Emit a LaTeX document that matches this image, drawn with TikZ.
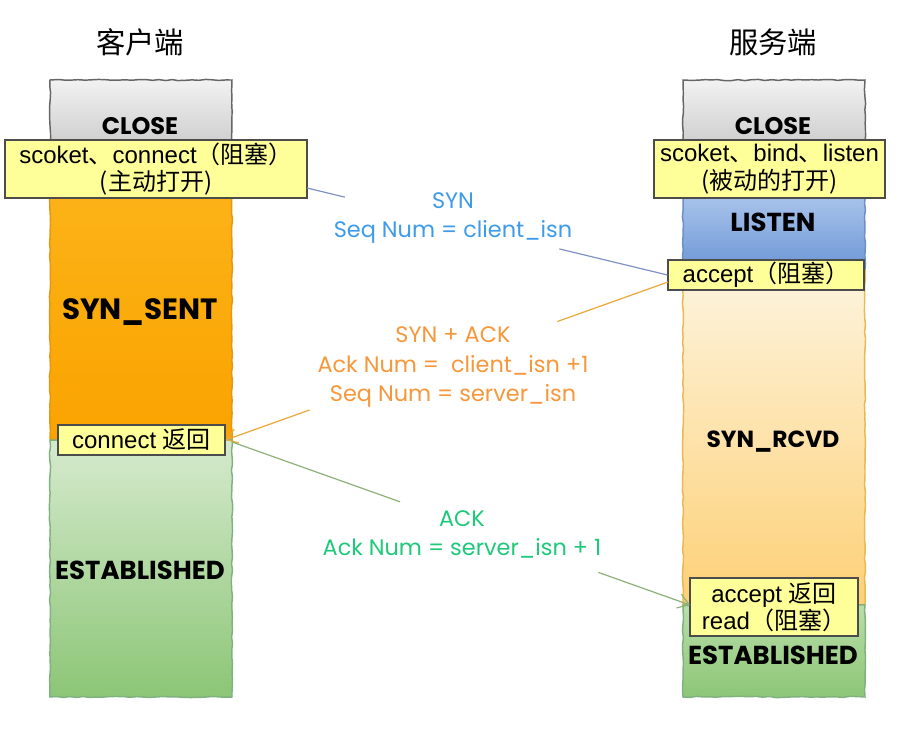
\documentclass[tikz,border=0pt]{standalone}
\usepackage{fontspec}
\setmainfont{Liberation Sans}
\newfontfamily\cjk{Noto Sans CJK SC}
\newfontfamily\comic{Poppins}
\usetikzlibrary{arrows.meta,decorations.pathmorphing,calc}
\newcommand{\zh}[1]{{\cjk #1}}
\definecolor{msgblue}{HTML}{3D9BE9}
\definecolor{msgorange}{HTML}{F5973A}
\definecolor{msggreen}{HTML}{1EC97A}
\definecolor{lnblue}{HTML}{7F92C4}
\definecolor{lnorange}{HTML}{E8A93A}
\definecolor{lngreen}{HTML}{8DB07A}
\definecolor{boxyellow}{HTML}{FFFF99}
\tikzset{
  wob/.style={decorate,decoration={random steps,segment length=5pt,amplitude=0.45pt},line width=1.1pt},
  ybox/.style={draw=black!70,fill=boxyellow,line width=0.8pt,inner sep=0pt,align=center,font=\fontsize{18}{20.5}\selectfont},
  state/.style={font=\comic\bfseries\fontsize{18}{20}\selectfont},
  msg/.style={font=\comic\fontsize{16.8}{21.8}\selectfont,align=center},
  title/.style={font=\cjk\fontsize{22}{26}\selectfont},
  conn/.style={line width=0.9pt},
  tip/.style={-{Straight Barb[length=8pt,width=11pt,line width=0.9pt]}}
}
\begin{document}
\begin{tikzpicture}[x=0.75pt,y=-0.75pt]
\useasboundingbox (0,0) rectangle (909,732);
% titles
\node[title] (tl) at (140,42) {客户端};
\node[title] (tr) at (773,42) {服务端};
% client column
\shade[wob,draw=black!60,top color=black!5,bottom color=black!25] (50,80) rectangle (232,170);
\shade[wob,draw={rgb,255:red,230;green,150;blue,20},top color={rgb,255:red,252;green,180;blue,25},bottom color={rgb,255:red,250;green,163;blue,0}] (50,170) rectangle (232,440);
\shade[wob,draw=green!40!black!50,top color={rgb,255:red,214;green,234;blue,206},bottom color={rgb,255:red,140;green,198;blue,118}] (50,440) rectangle (232,697);
% server column
\shade[wob,draw=black!60,top color=black!5,bottom color=black!25] (683,80) rectangle (865,170);
\shade[wob,draw={rgb,255:red,108;green,143;blue,196},top color={rgb,255:red,190;green,212;blue,242},bottom color={rgb,255:red,108;green,150;blue,214}] (683,170) rectangle (865,270);
\shade[wob,draw={rgb,255:red,232;green,185;blue,80},top color={rgb,255:red,253;green,244;blue,222},bottom color={rgb,255:red,253;green,208;blue,118}] (683,270) rectangle (865,605);
\shade[wob,draw=green!40!black!50,top color={rgb,255:red,186;green,222;blue,170},bottom color={rgb,255:red,140;green,198;blue,118}] (683,605) rectangle (865,697);
% state texts
\node[state] (cclose) at (140,126) {CLOSE};
\node[state] (sclose) at (773,126) {CLOSE};
\node[state,font=\comic\bfseries\fontsize{19.5}{22}\selectfont] (listen) at (773,222) {LISTEN};
\node[state,font=\comic\bfseries\fontsize{22}{24}\selectfont] (synsent) at (140,312) {SYN\_SENT};
\node[state,font=\comic\bfseries\fontsize{19.5}{22}\selectfont] (cest) at (140,570) {ESTABLISHED};
\node[state,font=\comic\bfseries\fontsize{17.5}{20}\selectfont] (synrcvd) at (773,442) {SYN\_RCVD};
\node[state,font=\comic\bfseries\fontsize{19.5}{22}\selectfont] (sest) at (773,655) {ESTABLISHED};
% yellow boxes
\node[ybox,minimum width=226.5pt,minimum height=43.5pt] (cbox) at (156,169) {scoket\zh{、}connect\zh{（阻塞）}\\\zh{(主动打开)}};
\node[ybox,minimum width=173.25pt,minimum height=43.5pt] (sbox) at (769.5,169) {scoket\zh{、}bind\zh{、}listen\\\zh{(被动的打开)}};
\node[ybox,minimum width=147pt,minimum height=22.5pt] (acc) at (766,275) {accept\zh{（阻塞）}};
\node[ybox,minimum width=125.25pt,minimum height=22.5pt] (cret) at (141.5,440) {connect \zh{返回}};
\node[ybox,minimum width=126pt,minimum height=43.5pt] (aret) at (774,607) {accept \zh{返回}\\read\zh{（阻塞）}};
% message labels
\node[msg,text=msgblue] (m1) at (453,218) {SYN\\Seq Num = client\_isn};
\node[msg,text=msgorange] (m2) at (453,367) {SYN + ACK\\Ack Num = \ client\_isn +1\\Seq Num = server\_isn};
\node[msg,text=msggreen] (m3) at (462,534) {ACK\\Ack Num = server\_isn + 1};
% connectors
\coordinate (p1) at (307,188);
\coordinate (q1) at (acc.west);
\draw[conn,lnblue] (p1) -- ($(p1)!0.105!(q1)$);
\draw[conn,lnblue] ($(p1)!0.70!(q1)$) -- (q1);
\coordinate (p2) at (668,282);
\coordinate (q2) at (cret.east);
\draw[conn,lnorange] (p2) -- ($(p2)!0.25!(q2)$);
\draw[conn,lnorange,tip] ($(p2)!0.81!(q2)$) -- (q2);
\coordinate (p3) at (232,442);
\coordinate (q3) at (690,605);
\draw[conn,lngreen] (p3) -- ($(p3)!0.367!(q3)$);
\draw[conn,lngreen,tip] ($(p3)!0.80!(q3)$) -- (q3);
\end{tikzpicture}
\end{document}
